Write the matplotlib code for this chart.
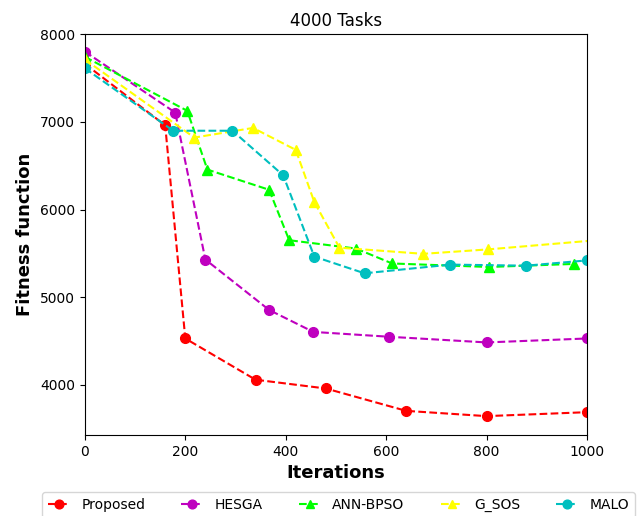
import matplotlib
matplotlib.use("Agg")
import matplotlib.pyplot as plt

x_prop = [0, 160, 200, 340, 480, 640, 800, 1000]
y_prop = [7660, 6960, 4530, 4060, 3960, 3705, 3645, 3690]

x_hesga = [0, 180, 240, 367, 455, 605, 800, 1000]
y_hesga = [7800, 7105, 5430, 4855, 4605, 4550, 4485, 4530]

x_ann = [0, 204, 244, 367, 407, 540, 612, 805, 975]
y_ann = [7740, 7125, 6455, 6225, 5650, 5555, 5385, 5345, 5380]

x_gsos = [0, 218, 335, 420, 457, 507, 674, 802, 1050]
y_gsos = [7710, 6820, 6930, 6680, 6085, 5565, 5495, 5545, 5665]

x_malo = [0, 176, 294, 395, 457, 557, 728, 879, 1000]
y_malo = [7610, 6898, 6898, 6390, 5463, 5273, 5372, 5360, 5420]

fig = plt.figure(figsize=(6.38, 5.16), dpi=100)
ax = fig.add_axes([0.133, 0.157, 0.787, 0.777])

ms = 7
ax.plot(x_prop, y_prop, 'r--', marker='o', markersize=ms, linewidth=1.5, label='Proposed')
ax.plot(x_hesga, y_hesga, 'm--', marker='o', markersize=ms, linewidth=1.5, label='HESGA')
ax.plot(x_ann, y_ann, '--', color='#00ff00', marker='^', markersize=ms, linewidth=1.5, label='ANN-BPSO')
ax.plot(x_gsos, y_gsos, '--', color='yellow', marker='^', markersize=ms, linewidth=1.5, label='G_SOS')
ax.plot(x_malo, y_malo, 'c--', marker='o', markersize=ms, linewidth=1.5, label='MALO')

ax.set_xlim(0, 1000)
ax.set_ylim(3430, 8000)
ax.set_xticks([0, 200, 400, 600, 800, 1000])
ax.set_yticks([4000, 5000, 6000, 7000, 8000])
ax.set_title('4000 Tasks', fontsize=12)
ax.set_xlabel('Iterations', fontsize=13, fontweight='bold')
ax.set_ylabel('Fitness function', fontsize=13, fontweight='bold')
ax.legend(loc='upper center', bbox_to_anchor=(0.505, -0.125), ncol=5, fontsize=10,
          handlelength=1.6, handletextpad=0.8, columnspacing=2.6, markerscale=0.9)

fig.savefig('out.png', dpi=100)
